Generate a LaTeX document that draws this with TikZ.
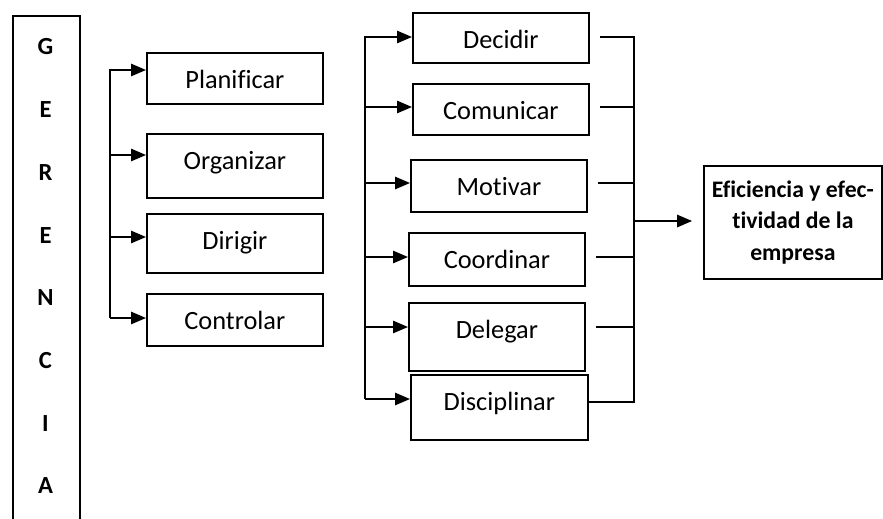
\documentclass[tikz,border=0pt]{standalone}
\usepackage{fontspec}
\setmainfont{Carlito}[Ligatures=NoCommon]
\usetikzlibrary{arrows.meta}

\tikzset{
  caja/.style 2 args={draw, line width=1pt, anchor=north west, inner sep=0pt,
    minimum width={#1*0.02cm}, text height={36*0.02cm}, text depth={(#2-36)*0.02cm},
    font=\fontsize{15}{18}\selectfont},
  letra/.style={font=\fontsize{14}{16}\bfseries\selectfont, inner sep=1pt},
  flecha/.style={line width=1pt, -{Triangle[length=8.5pt,width=7pt]}},
  linea/.style={line width=1pt}
}

\begin{document}
\begin{tikzpicture}[x=0.02cm, y=-0.02cm]
\useasboundingbox (0,0) rectangle (883,518);

% columna GERENCIA
\node[draw, line width=1pt, anchor=north west, minimum width={67*0.02cm},
  minimum height={530*0.02cm}] (ger) at (12,15) {};
\foreach \l [count=\i] in {G,E,R,E,N,C,I,A}
  \node[letra] (l\i) at (45.5,{47+62.7*(\i-1)}) {\l};

% funciones
\node[caja={176}{51}] (plan) at (146,52) {Planificar};
\node[caja={176}{64}] (org) at (146,133) {Organizar};
\node[caja={176}{59}] (dir) at (146,213) {Dirigir};
\node[caja={176}{52}] (con) at (146,293) {Controlar};

% acciones
\node[caja={176}{50}] (dec) at (412,12) {Decidir};
\node[caja={176}{51}] (com) at (412,83) {Comunicar};
\node[caja={176}{52}] (mot) at (410,159) {Motivar};
\node[caja={176}{53}] (coo) at (408,232) {Coordinar};
\node[caja={176}{68}] (del) at (408,302) {Delegar};
\node[caja={177}{65}] (dis) at (410,374) {Disciplinar};

% resultado
\node[draw, line width=1pt, anchor=north west, minimum width={178*0.02cm},
  minimum height={113*0.02cm}, align=center,
  font=\fontsize{13.5}{18.1}\bfseries\selectfont] (efi) at (703,165)
  {Eficiencia y efec-\\tividad de la\\empresa};

% flechas de la izquierda
\coordinate (a1) at (110,70);
\coordinate (a2) at (110,155);
\coordinate (a3) at (110,237);
\coordinate (a4) at (110,318);
\draw[flecha] (a4) -- (a1) -- (plan.west |- a1);
\foreach \n/\c in {org/a2, dir/a3, con/a4}
  \draw[flecha] (\c) -- (\n.west |- \c);

% flechas del centro
\coordinate (b1) at (365,37);
\coordinate (b2) at (365,107);
\coordinate (b3) at (365,183);
\coordinate (b4) at (365,257);
\coordinate (b5) at (365,327);
\coordinate (b6) at (365,399);
\draw[flecha] (b6) -- (b1) -- (dec.west |- b1);
\foreach \n/\c in {com/b2, mot/b3, coo/b4, del/b5, dis/b6}
  \draw[flecha] (\c) -- (\n.west |- \c);

% lineas de la derecha
\coordinate (c1) at (634,37);
\coordinate (c2) at (634,107);
\coordinate (c3) at (634,183);
\coordinate (c4) at (634,257);
\coordinate (c5) at (634,327);
\coordinate (c6) at (634,402);
\draw[linea, shorten <=5.7pt] (dec.east |- c1) -- (c1) -- (c6) -- (dis.east |- c6);
\foreach \n/\c in {com/c2, mot/c3, coo/c4, del/c5}
  \draw[linea, shorten <=5.7pt] (\n.east |- \c) -- (\c);
\coordinate (m) at (634,221);
\draw[flecha, shorten >=6.2pt] (m) -- (efi.west |- m);

\end{tikzpicture}
\end{document}
